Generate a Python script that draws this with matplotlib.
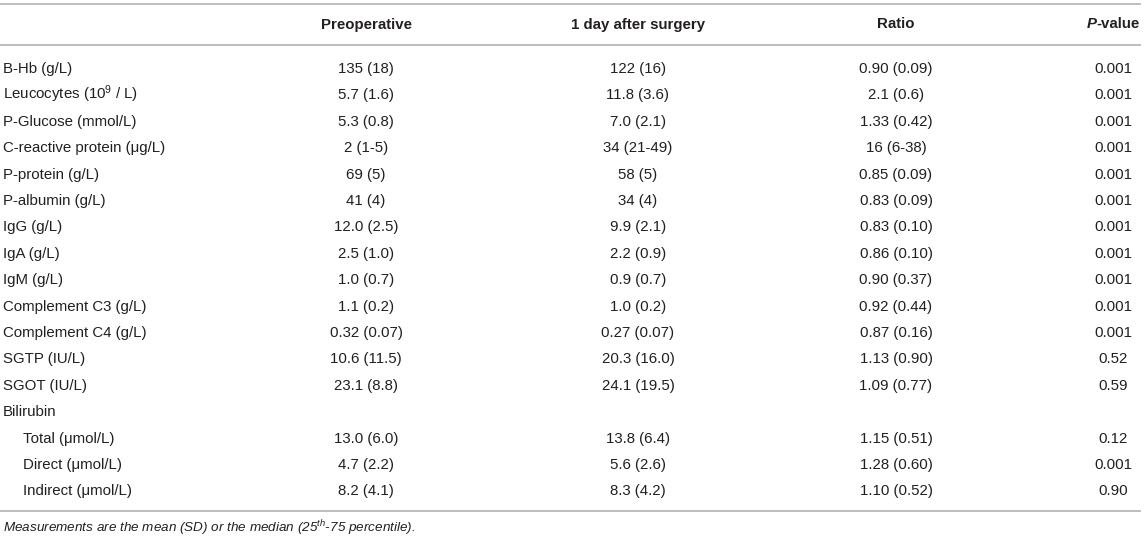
import matplotlib
matplotlib.use("Agg")
import matplotlib.pyplot as plt

plt.rcParams['font.family'] = ['Liberation Sans', 'DejaVu Sans']
plt.rcParams['mathtext.fontset'] = 'custom'
plt.rcParams['mathtext.rm'] = 'Liberation Sans'
plt.rcParams['mathtext.it'] = 'Liberation Sans:italic'
plt.rcParams['mathtext.bf'] = 'Liberation Sans:bold'

headers = ["Preoperative", "1 day after surgery", "Ratio"]
row_labels = ["B-Hb (g/L)", r"Leucocytes (10$^{9}$ / L)", "P-Glucose (mmol/L)",
              "C-reactive protein (μg/L)", "P-protein (g/L)", "P-albumin (g/L)",
              "IgG (g/L)", "IgA (g/L)", "IgM (g/L)", "Complement C3 (g/L)",
              "Complement C4 (g/L)", "SGTP (IU/L)", "SGOT (IU/L)", "Bilirubin",
              "Total (μmol/L)", "Direct (μmol/L)", "Indirect (μmol/L)"]
indented = [False] * 14 + [True] * 3
preop = ["135 (18)", "5.7 (1.6)", "5.3 (0.8)", "2 (1-5)", "69 (5)", "41 (4)",
         "12.0 (2.5)", "2.5 (1.0)", "1.0 (0.7)", "1.1 (0.2)", "0.32 (0.07)",
         "10.6 (11.5)", "23.1 (8.8)", "", "13.0 (6.0)", "4.7 (2.2)", "8.2 (4.1)"]
day1 = ["122 (16)", "11.8 (3.6)", "7.0 (2.1)", "34 (21-49)", "58 (5)", "34 (4)",
        "9.9 (2.1)", "2.2 (0.9)", "0.9 (0.7)", "1.0 (0.2)", "0.27 (0.07)",
        "20.3 (16.0)", "24.1 (19.5)", "", "13.8 (6.4)", "5.6 (2.6)", "8.3 (4.2)"]
ratio = ["0.90 (0.09)", "2.1 (0.6)", "1.33 (0.42)", "16 (6-38)", "0.85 (0.09)",
         "0.83 (0.09)", "0.83 (0.10)", "0.86 (0.10)", "0.90 (0.37)", "0.92 (0.44)",
         "0.87 (0.16)", "1.13 (0.90)", "1.09 (0.77)", "", "1.15 (0.51)",
         "1.28 (0.60)", "1.10 (0.52)"]
pvalue = ["0.001"] * 11 + ["0.52", "0.59", "", "0.12", "0.001", "0.90"]
caption = r"Measurements are the mean (SD) or the median (25$^{th}$-75 percentile)."

W, H = 1145, 543
fig = plt.figure(figsize=(W / 100, H / 100), dpi=100)
ax = fig.add_axes([0, 0, 1, 1])
ax.set_xlim(0, W)
ax.set_ylim(H, 0)
ax.axis('off')

fs = 10.8
tc = '#231f20'
line_color = '#b8b8b8'
col_x = [366, 638, 896, 1113]
label_x = 3
indent = 20
header_base = 28.5
row_base0 = 73
row_dy = 26.4

for yl in (4, 44.5, 511):
    ax.plot([0, 1141], [yl, yl], color=line_color, lw=1.3, solid_capstyle='butt')

for x, h in zip(col_x, headers):
    ax.text(x, header_base, h, ha='center', va='baseline', fontsize=fs,
            fontweight='bold', color=tc)

# P-value header: italic bold "P" + bold "-value", centred together
fig.canvas.draw()
r = fig.canvas.get_renderer()
tp = ax.text(0, header_base, "P", ha='left', va='baseline', fontsize=fs,
             fontweight='bold', fontstyle='italic', color=tc)
tv = ax.text(0, header_base, "-value", ha='left', va='baseline', fontsize=fs,
             fontweight='bold', color=tc)
wp = tp.get_window_extent(r).width
wv = tv.get_window_extent(r).width
x0 = col_x[3] - (wp + wv) / 2
tp.set_x(x0)
tv.set_x(x0 + wp)

for i, lab in enumerate(row_labels):
    y = row_base0 + i * row_dy
    ax.text(label_x + (indent if indented[i] else 0), y, lab, ha='left', va='baseline',
            fontsize=fs, color=tc)
    for x, col in zip(col_x, [preop, day1, ratio, pvalue]):
        ax.text(x, y, col[i], ha='center', va='baseline', fontsize=fs, color=tc)

ax.text(label_x, 532.5, caption, ha='left', va='baseline', fontsize=9.7,
        fontstyle='italic', color=tc)

fig.savefig("out.png", dpi=100)
